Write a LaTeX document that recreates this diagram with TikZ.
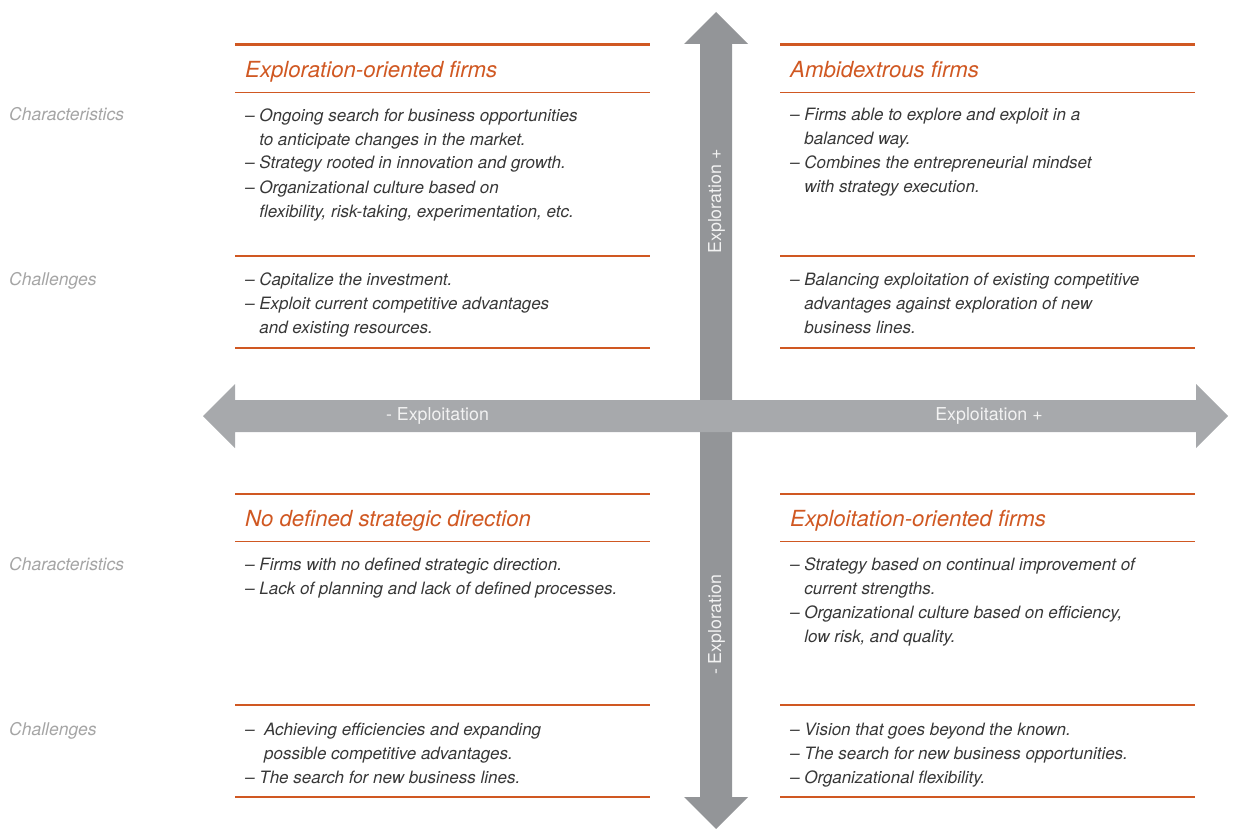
\documentclass[tikz,border=0pt]{standalone}
\usepackage{fontspec}
\setmainfont{TeX Gyre Heros}
\definecolor{orng}{RGB}{208,88,34}
\definecolor{hgray}{RGB}{167,169,172}
\definecolor{vgray}{RGB}{147,149,152}
\definecolor{bodytxt}{RGB}{55,55,55}
\definecolor{lbltxt}{RGB}{165,165,165}
\definecolor{axtxt}{RGB}{242,242,242}
\tikzset{
  thickrule/.style={orng, line width=2.6pt},
  thinrule/.style={orng, line width=1.4pt},
  quadtitle/.style={anchor=base west, inner sep=0pt, text=orng, font=\fontsize{22.2}{26}\selectfont\itshape},
  bodyblock/.style={anchor=base west, inner sep=0pt, align=left, text=bodytxt, font=\fontsize{17}{24}\selectfont\itshape},
  sidelabel/.style={anchor=base west, inner sep=0pt, text=lbltxt, font=\fontsize{17.5}{24}\selectfont\itshape},
  axislabel/.style={anchor=base, inner sep=0pt, text=axtxt, font=\fontsize{17.8}{24}\selectfont},
}
\newcommand{\ind}{\hphantom{– }}
\begin{document}
\begin{tikzpicture}[x=1pt,y=-1pt]
\useasboundingbox (0,0) rectangle (1233,829);
% vertical arrow
\fill[vgray] (716,12) -- (748,44) -- (732,44) -- (732,797) -- (748,797) -- (716,829)
  -- (684,797) -- (700,797) -- (700,44) -- (684,44) -- cycle;
% horizontal arrow
\fill[hgray] (203,416) -- (235,384) -- (235,400) -- (1196,400) -- (1196,384) -- (1228,416)
  -- (1196,448) -- (1196,432) -- (235,432) -- (235,448) -- cycle;
% axis labels
\node[axislabel] (xneg) at (437.5,420) {- Exploitation};
\node[axislabel] (xpos) at (989,420) {Exploitation +};
\node[axislabel, rotate=90] (ypos) at (721,201.5) {Exploration +};
\node[axislabel, rotate=90] (yneg) at (721,625) {- Exploration};
% rules
\foreach \xa/\xb in {235/650, 780/1195} {
  \draw[thickrule] (\xa,44.5) -- (\xb,44.5);
  \draw[thinrule] (\xa,92.5) -- (\xb,92.5);
  \draw[thinrule] (\xa,256) -- (\xb,256);
  \draw[thinrule] (\xa,348) -- (\xb,348);
  \draw[thickrule] (\xa,494) -- (\xb,494);
  \draw[thinrule] (\xa,541.5) -- (\xb,541.5);
  \draw[thinrule] (\xa,705) -- (\xb,705);
  \draw[thinrule] (\xa,797) -- (\xb,797);
}
% side labels
\node[sidelabel] (lc1) at (9,121) {Characteristics};
\node[sidelabel] (lh1) at (9,285) {Challenges};
\node[sidelabel] (lc2) at (9,570.5) {Characteristics};
\node[sidelabel] (lh2) at (9,735) {Challenges};
% top-left (blocks anchored at the baseline of their last line)
\node[quadtitle] (tlt) at (245,77.5) {Exploration-oriented firms};
\node[bodyblock] (tlc) at (245,217) {– Ongoing search for business opportunities\\
\ind to anticipate changes in the market.\\
– Strategy rooted in innovation and growth.\\
– Organizational culture based on\\
\ind flexibility, risk-taking, experimentation, etc.};
\node[bodyblock] (tlh) at (245,333) {– Capitalize the investment.\\
– Exploit current competitive advantages\\
\ind and existing resources.};
% top-right
\node[quadtitle] (trt) at (790,77.5) {Ambidextrous firms};
\node[bodyblock] (trc) at (790,193) {– Firms able to explore and exploit in a\\
\ind balanced way.\\
– Combines the entrepreneurial mindset\\
\ind with strategy execution.};
\node[bodyblock] (trh) at (790,333) {– Balancing exploitation of existing competitive\\
\ind advantages against exploration of new\\
\ind business lines.};
% bottom-left
\node[quadtitle] (blt) at (245,526) {No defined strategic direction};
\node[bodyblock] (blc) at (245,594.5) {– Firms with no defined strategic direction.\\
– Lack of planning and lack of defined processes.};
\node[bodyblock] (blh) at (245,783) {–\ \ Achieving efficiencies and expanding\\
\hphantom{–\ \ }possible competitive advantages.\\
– The search for new business lines.};
% bottom-right
\node[quadtitle] (brt) at (790,526) {Exploitation-oriented firms};
\node[bodyblock] (brc) at (790,642.5) {– Strategy based on continual improvement of\\
\ind current strengths.\\
– Organizational culture based on efficiency,\\
\ind low risk, and quality.};
\node[bodyblock] (brh) at (790,783) {– Vision that goes beyond the known.\\
– The search for new business opportunities.\\
– Organizational flexibility.};
\end{tikzpicture}
\end{document}
